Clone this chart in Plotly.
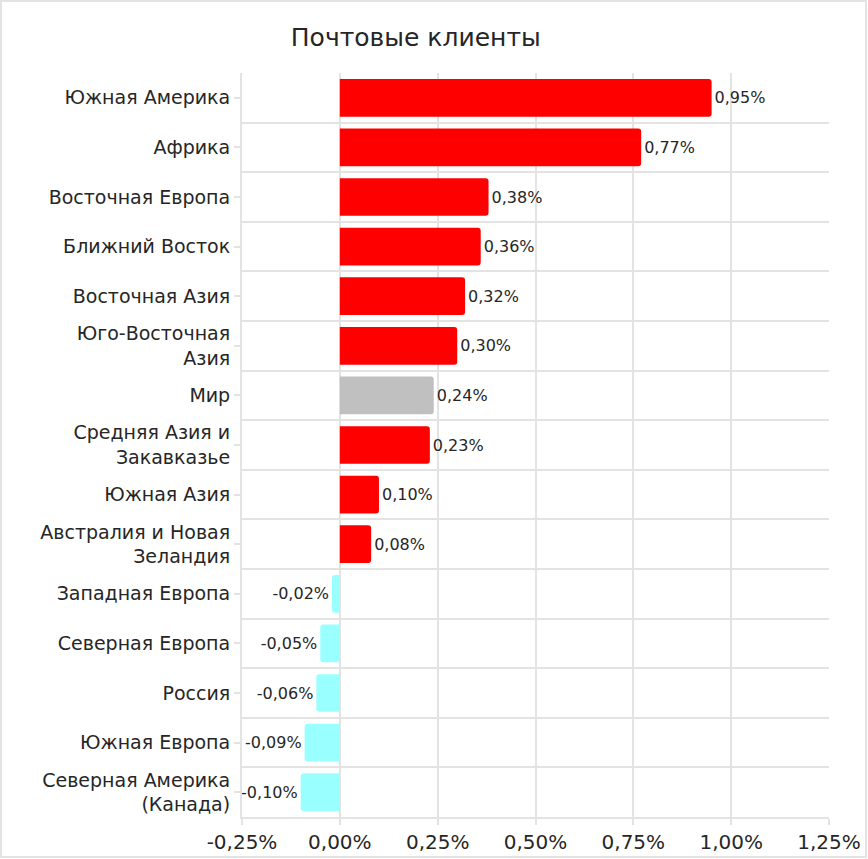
import plotly.graph_objects as go

# --- data ---
regions = [
    "Южная Америка", "Африка", "Восточная Европа", "Ближний Восток",
    "Восточная Азия", "Юго-Восточная<br>Азия", "Мир",
    "Средняя Азия и<br>Закавказье", "Южная Азия",
    "Австралия и Новая<br>Зеландия", "Западная Европа", "Северная Европа",
    "Россия", "Южная Европа", "Северная Америка<br>(Канада)",
]
change = [0.95, 0.77, 0.38, 0.36, 0.32, 0.30, 0.24, 0.23, 0.10, 0.08,
          -0.02, -0.05, -0.06, -0.09, -0.10]
x_ticks = [-0.25, 0, 0.25, 0.5, 0.75, 1.0, 1.25]
x_tick_text = ["-0,25%", "0,00%", "0,25%", "0,50%", "0,75%", "1,00%", "1,25%"]

RED, GREY, CYAN = "#FF0000", "#C0C0C0", "#99FFFF"
GRID = "#E3E3E3"
FONT = "DejaVu Sans"
TXT = "#262626"


def bar_color(name, v):
    if name == "Мир":
        return GREY
    return RED if v >= 0 else CYAN


def fmt(v):
    return f"{v:.2f}".replace(".", ",") + "%"


pos = list(range(len(regions)))
colors = [bar_color(r, v) for r, v in zip(regions, change)]

fig = go.Figure(go.Bar(
    x=change, y=pos, orientation="h",
    marker=dict(color=colors, cornerradius=3, line=dict(width=0)),
    width=0.76,
    text=[fmt(v) for v in change], textposition="outside",
    textfont=dict(family=FONT, size=16, color=TXT),
    cliponaxis=False, hoverinfo="skip",
))

L, R, T, B = 242, 39, 73, 42
W, H = 868, 859

fig.update_layout(
    width=W, height=H,
    margin=dict(l=L, r=R, t=T, b=B, autoexpand=False),
    paper_bgcolor="white", plot_bgcolor="white",
    showlegend=False,
    font=dict(family=FONT, size=19, color=TXT),
    title=dict(text="Почтовые клиенты", x=0.479, xref="container",
               xanchor="center", y=0.957, yref="container", yanchor="middle",
               font=dict(family=FONT, size=25, color=TXT)),
    xaxis=dict(range=[-0.25, 1.25], tickvals=x_ticks, ticktext=x_tick_text,
               automargin=False, showgrid=False, zeroline=False,
               showline=True, linecolor=GRID, linewidth=2,
               ticks="outside", ticklen=6, tickcolor=GRID, tickwidth=1.5,
               tickfont=dict(family=FONT, size=20, color=TXT),
               minor=dict(tickmode="array", tickvals=x_ticks[:-1],
                          showgrid=True, gridcolor=GRID, gridwidth=1.5,
                          ticks="")),
    yaxis=dict(range=[len(regions) - 0.5, -0.5], tickvals=pos, ticktext=regions,
               automargin=False, showgrid=False, zeroline=False,
               showline=True, linecolor=GRID, linewidth=2,
               ticks="outside", ticklen=6, tickcolor=GRID, tickwidth=1.5,
               tickfont=dict(family=FONT, size=19, color=TXT),
               minor=dict(tickmode="array",
                          tickvals=[p + 0.5 for p in pos[:-1]],
                          showgrid=True, gridcolor=GRID, gridwidth=1.5,
                          ticks="")),
    shapes=[dict(type="rect", xref="paper", yref="paper",
                 x0=-(L - 1) / (W - L - R), x1=1 + (R - 2) / (W - L - R),
                 y0=-(B - 2) / (H - T - B), y1=1 + (T - 1) / (H - T - B),
                 line=dict(color=GRID, width=2), layer="below")],
)

# drop the browser's default body margin so the figure sits at 0,0
fig.write_html("out.html", config={"displayModeBar": False},
               post_script="document.body.style.margin='0';")
